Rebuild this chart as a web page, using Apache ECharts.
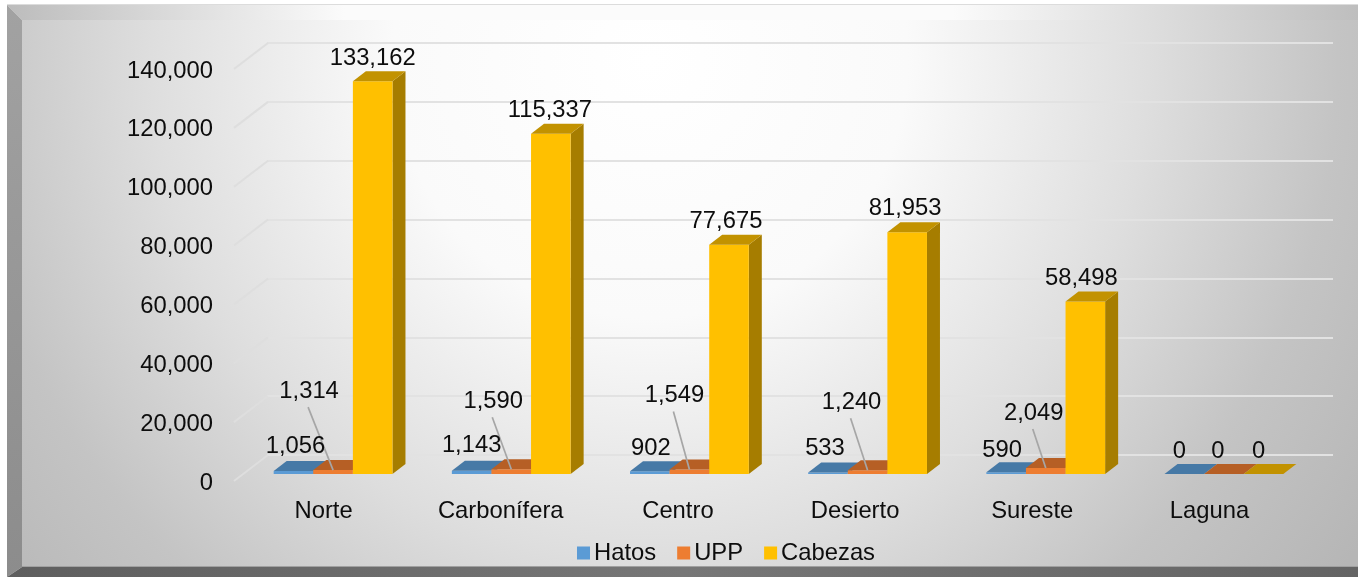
<!DOCTYPE html>
<html>
<head>
<meta charset="utf-8">
<title>Hatos, UPP y Cabezas por region</title>
<script src="https://cdn.jsdelivr.net/npm/echarts@6/dist/echarts.min.js"></script>
<style>
    html, body { margin: 0; padding: 0; background: #fff; }
    #chart { width: 1358px; height: 577px; }
</style>
</head>
<body>
<div id="chart"></div>
<script>
// datos
var categories = ['Norte', 'Carbonífera', 'Centro', 'Desierto', 'Sureste', 'Laguna'];
var hatos   = [1056, 1143, 902, 533, 590, 0];
var upp     = [1314, 1590, 1549, 1240, 2049, 0];
var cabezas = [133162, 115337, 77675, 81953, 58498, 0];
var yTicks  = [0, 20000, 40000, 60000, 80000, 100000, 120000, 140000];

// etiquetas movidas a mano, [dx, dy] desde el centro superior de la barra
var hatosLabelPos   = [[2, -24], [0, -25], [1, -23], [-3, -24], [-4, -22], [-5, -23]];
var uppLabelPos     = [[-24, -79], [-18, -68], [-15, -74], [-16, -68], [-12, -55], [-6, -23]];
var cabezasLabelPos = [[0, -23], [-1, -23], [-3, -23], [-2, -24], [-4, -23], [-5, -23]];

var FONT = '"Liberation Sans", Arial, sans-serif';
var FONT_SIZE = 23.8;
var DEPTH_X = 13, DEPTH_Y = 10;
var BAR_BAND = 39.6 / 178.2;

function fmt(v) { return Number(v).toLocaleString('en-US'); }

// barra 3D: frente, techo y costado
function bar3d(offset, colors, labelPos, leader) {
    return function (params, api) {
        var i = api.value(0), v = api.value(1);
        var top = api.coord([i, v]), base = api.coord([i, 0]);
        var w = api.size([1, 0])[0] * BAR_BAND;
        var cx = top[0] + offset * w;
        var x0 = cx - w / 2, x1 = cx + w / 2;
        var yt = top[1], yb = base[1];
        var kids = [];
        if (v > 0) {
            kids.push({ type: 'polygon', shape: { points: [[x1, yt], [x1 + DEPTH_X, yt - DEPTH_Y], [x1 + DEPTH_X, yb - DEPTH_Y], [x1, yb]] },
                style: { fill: colors.side } });
            kids.push({ type: 'rect', shape: { x: x0, y: yt, width: w, height: yb - yt }, style: { fill: colors.front } });
        }
        kids.push({ type: 'polygon', shape: { points: [[x0, yt], [x1, yt], [x1 + DEPTH_X, yt - DEPTH_Y], [x0 + DEPTH_X, yt - DEPTH_Y]] },
            style: { fill: colors.top } });
        var lp = labelPos[i];
        if (leader && v > 0) {
            kids.push({ type: 'line', shape: { x1: cx + lp[0] - 1, y1: yt + lp[1] + 16, x2: cx, y2: yt },
                style: { stroke: '#a6a6a6', lineWidth: 1.7 } });
        }
        kids.push({ type: 'text', z2: 20, style: { x: cx + lp[0], y: yt + lp[1], text: fmt(v), fill: '#0d0d0d',
            font: FONT_SIZE + 'px ' + FONT, align: 'center', verticalAlign: 'middle' } });
        return { type: 'group', children: kids };
    };
}

function pairs(arr) {
    return arr.map(function (v, i) { return [i, v]; });
}

function barSeries(name, arr, offset, colors, labelPos, leader) {
    return {
        name: name, type: 'custom', xAxisIndex: 2, yAxisIndex: 2,
        itemStyle: { color: colors.front },
        renderItem: bar3d(offset, colors, labelPos, leader),
        encode: { x: 0, y: 1 },
        data: pairs(arr), silent: true, z: 5
    };
}

var chart = echarts.init(document.getElementById('chart'));

chart.setOption({
    animation: false,
    textStyle: { fontFamily: FONT },
    graphic: { elements: [
        { type: 'rect', z: -20, silent: true, shape: { x: 7, y: 4, width: 1351, height: 2 }, style: { fill: '#dcdcdc' } },
        { type: 'rect', z: -20, silent: true, shape: { x: 22, y: 20, width: 1336, height: 547 },
            style: { fill: new echarts.graphic.RadialGradient(0.47, 0.073, 1.572, [
                { offset: 0, color: '#ffffff' }, { offset: 0.3, color: '#fafafa' }, { offset: 0.58, color: '#dedede' },
                { offset: 0.8, color: '#c4c4c4' }, { offset: 1, color: '#b6b6b6' }]) } },
        { type: 'polygon', z: -19, silent: true, shape: { points: [[7, 5], [1358, 5], [1358, 20], [22, 20]] },
            style: { fill: new echarts.graphic.LinearGradient(0, 0, 1, 0, [
                { offset: 0, color: '#bcbcbc' }, { offset: 0.25, color: '#fbfbfb' }, { offset: 0.7, color: '#fbfbfb' }, { offset: 1, color: '#bebebe' }]) } },
        { type: 'polygon', z: -19, silent: true, shape: { points: [[7, 5], [22, 20], [22, 567], [7, 577]] },
            style: { fill: new echarts.graphic.LinearGradient(0, 0, 0, 1, [
                { offset: 0, color: '#a2a2a2' }, { offset: 1, color: '#8c8c8c' }]) } },
        { type: 'polygon', z: -19, silent: true, shape: { points: [[7, 577], [22, 567], [1358, 567], [1358, 577]] },
            style: { fill: new echarts.graphic.LinearGradient(0, 0, 1, 0, [
                { offset: 0, color: '#5e5e5e' }, { offset: 0.5, color: '#777777' }, { offset: 1, color: '#646464' }]) } },
        { type: 'rect', z: -18, silent: true, shape: { x: 22, y: 566, width: 1336, height: 1 }, style: { fill: '#a0a0a0' } }
    ] },
    legend: {
        data: ['Hatos', 'UPP', 'Cabezas'], left: 572, top: 536, icon: 'rect', itemWidth: 13, itemHeight: 13, itemGap: 21,
        textStyle: { fontSize: FONT_SIZE, color: '#0d0d0d', fontFamily: FONT, padding: [0, 0, 0, -1] }
    },
    grid: [
        { left: 235, width: 1063, top: 71, height: 412 },   // frente: ejes con rotulos
        { left: 267, width: 1066, top: 43, height: 412 },   // pared del fondo
        { left: 244, width: 1069, top: 61, height: 413 }    // barras
    ],
    xAxis: [
        { gridIndex: 0, type: 'category', data: categories, axisLine: { show: false }, axisTick: { show: false },
            axisLabel: { fontSize: FONT_SIZE, color: '#0d0d0d', margin: 16 } },
        { gridIndex: 1, type: 'category', data: categories, show: false },
        { gridIndex: 2, type: 'category', data: categories, show: false }
    ],
    yAxis: [
        { gridIndex: 0, type: 'value', min: 0, max: 140000, interval: 20000, axisLine: { show: false }, axisTick: { show: false },
            splitLine: { show: false },
            axisLabel: { fontSize: FONT_SIZE, color: '#0d0d0d', margin: 22, formatter: fmt } },
        { gridIndex: 1, type: 'value', min: 0, max: 140000, interval: 20000, axisLabel: { show: false }, axisLine: { show: false }, axisTick: { show: false },
            splitLine: { show: true, lineStyle: { color: '#e2e2e2', width: 2 } } },
        { gridIndex: 2, type: 'value', min: 0, max: 140000, interval: 20000, show: false, splitLine: { show: false } }
    ],
    series: [
        {
            // tramos inclinados de las lineas de division
            name: 'grid', type: 'custom', xAxisIndex: 0, yAxisIndex: 0, silent: true, z: 1,
            encode: { x: 0, y: 1 },
            data: yTicks.map(function (t) { return [0, t]; }),
            renderItem: function (params, api) {
                var p = api.coord([0, api.value(1)]);
                var x = p[0] - api.size([1, 0])[0] / 2 - 1;
                var y = p[1] - 2;
                return { type: 'line', shape: { x1: x, y1: y, x2: x + 34, y2: y - 26 },
                    style: { stroke: '#dedede', lineWidth: 2 } };
            }
        },
        barSeries('Hatos', hatos, -1, { front: '#5b9bd5', top: '#4679a6', side: '#3f6f9c' }, hatosLabelPos, false),
        barSeries('UPP', upp, 0, { front: '#ed7d31', top: '#b65f25', side: '#ab5a23' }, uppLabelPos, true),
        barSeries('Cabezas', cabezas, 1, { front: '#ffc000', top: '#c29200', side: '#a67d00' }, cabezasLabelPos, false)
    ]
});
</script>
</body>
</html>
